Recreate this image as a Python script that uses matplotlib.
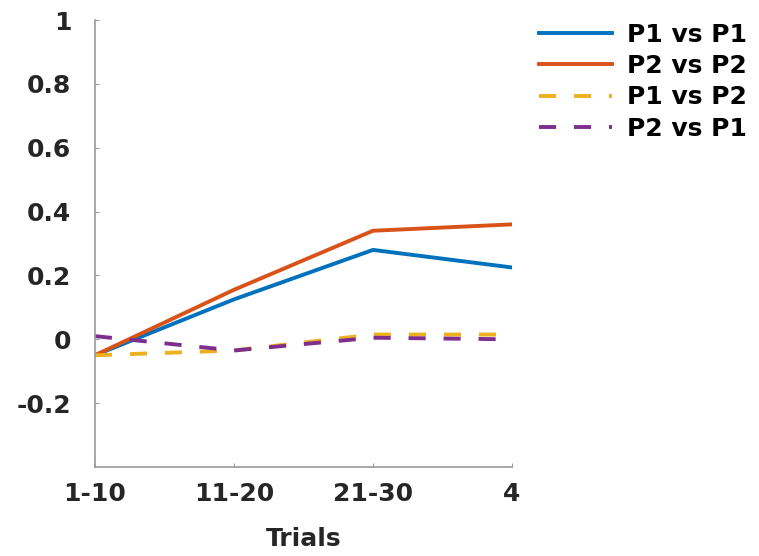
import matplotlib
matplotlib.use("Agg")
import matplotlib.pyplot as plt

trial_labels = ["1-10", "11-20", "21-30", "4"]
x_pos = [1, 2, 3, 4]

p1_vs_p1 = [-0.05, 0.125, 0.28, 0.225]
p2_vs_p2 = [-0.05, 0.155, 0.34, 0.36]
p1_vs_p2 = [-0.05, -0.035, 0.015, 0.015]
p2_vs_p1 = [0.01, -0.035, 0.005, 0.0]

plt.rcParams.update({
    "font.family": "DejaVu Sans",
    "font.weight": "bold",
})

fig = plt.figure(figsize=(7.59, 5.56), dpi=100)
ax = fig.add_axes([0.125, 0.160, 0.5496, 0.804])

lw = 2.8
dash = (4.4, 4.6)
ax.plot(x_pos, p1_vs_p1, color="#0072BD", lw=lw, label="P1 vs P1")
ax.plot(x_pos, p2_vs_p2, color="#D95319", lw=lw, label="P2 vs P2")
ax.plot(x_pos, p1_vs_p2, color="#EDB120", lw=lw, dashes=dash, label="P1 vs P2")
ax.plot(x_pos, p2_vs_p1, color="#7E2F8E", lw=lw, dashes=dash, label="P2 vs P1")

ax.set_xlim(1, 4)
ax.set_ylim(-0.4, 1)
ax.set_xticks(x_pos)
ax.set_xticklabels(trial_labels)
ax.set_yticks([-0.2, 0, 0.2, 0.4, 0.6, 0.8, 1])
ax.set_yticklabels(["-0.2", "0", "0.2", "0.4", "0.6", "0.8", "1"])
ax.tick_params(axis="both", direction="in", length=3, width=0.8, color="#999999",
               labelsize=18)
ax.tick_params(axis="y", pad=17)
ax.tick_params(axis="x", pad=11)
for lab in ax.get_xticklabels() + ax.get_yticklabels():
    lab.set_fontweight("bold")
    lab.set_color("#262626")
ax.set_xlabel("Trials", fontsize=18, fontweight="bold", color="#262626", labelpad=15)

for side in ("top", "right"):
    ax.spines[side].set_visible(False)
for side in ("left", "bottom"):
    ax.spines[side].set_color("#999999")
    ax.spines[side].set_linewidth(1.2)

leg = fig.legend(loc="upper left", bbox_to_anchor=(0.681, 1.0), frameon=False,
                 prop={"size": 18, "weight": "bold"}, handlelength=2.9,
                 handletextpad=0.6, labelspacing=0.3)

fig.savefig("out.png", dpi=100, facecolor="white")
